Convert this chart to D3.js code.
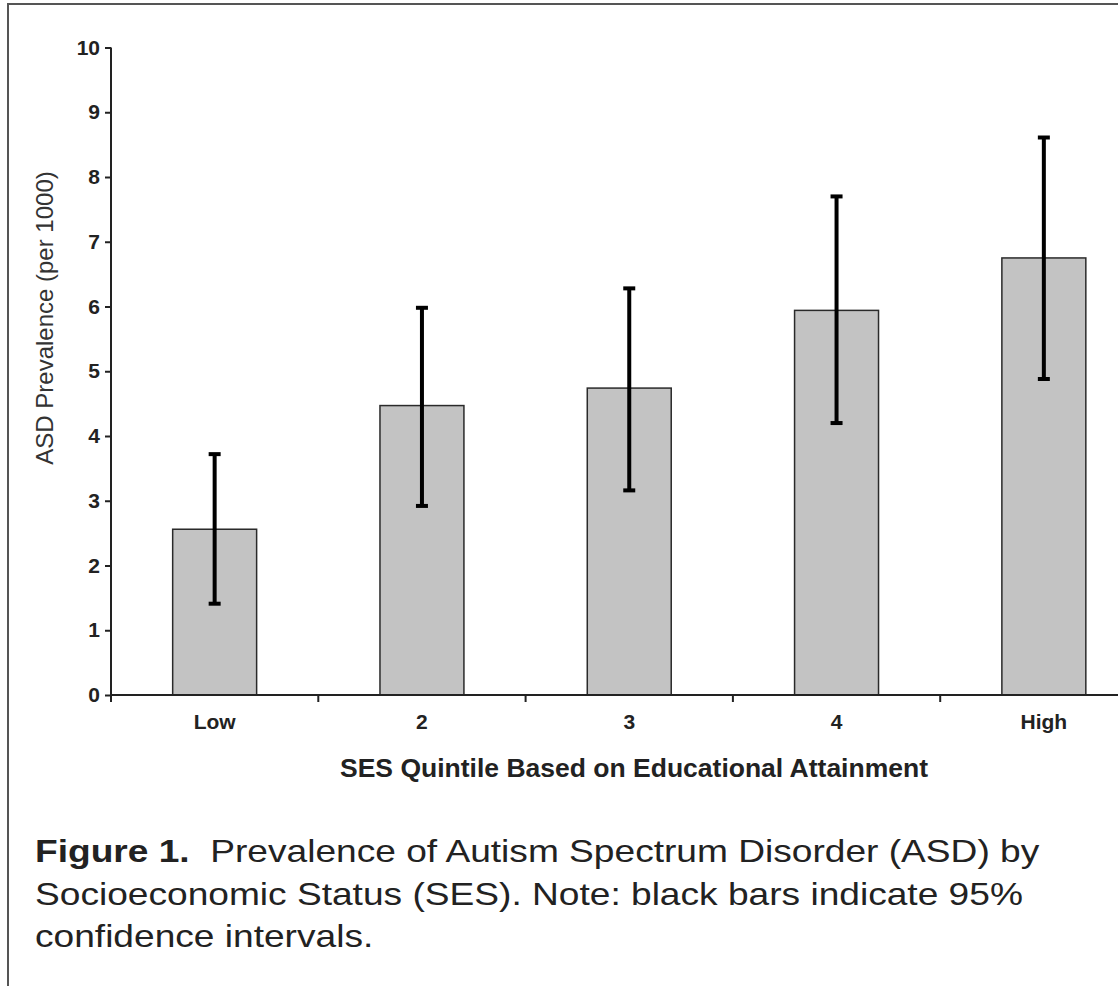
<!DOCTYPE html>
<html>
<head>
<meta charset="utf-8">
<script src="https://cdn.jsdelivr.net/npm/d3@7"></script>
<style>
  html, body { margin: 0; padding: 0; background: #fff; }
  svg { display: block; }
</style>
</head>
<body>
<svg id="chart" width="1118" height="986"></svg>
<script>
// SES quintiles and ASD prevalence (per 1000) with 95% confidence limits
const categories = ["Low", "2", "3", "4", "High"];
const prevalence = [2.56, 4.47, 4.74, 5.94, 6.75];
const ciLower = [1.41, 2.92, 3.16, 4.20, 4.88];
const ciUpper = [3.72, 5.98, 6.28, 7.70, 8.61];
const yTicks = [0, 1, 2, 3, 4, 5, 6, 7, 8, 9, 10];

const svg = d3.select("#chart");
const font = "'Liberation Sans', Arial, Helvetica, sans-serif";

// Figure frame
svg.append("rect")
  .attr("x", 8).attr("y", 4)
  .attr("width", 1200).attr("height", 1100)
  .attr("fill", "none")
  .attr("stroke", "#555")
  .attr("stroke-width", 2);

const plot = { left: 111, top: 47.5, bottom: 695, step: 207.3 };

const y = d3.scaleLinear().domain([0, 10]).range([plot.bottom, plot.top]);
const x = d3.scaleBand()
  .domain(categories)
  .range([plot.left, plot.left + plot.step * categories.length])
  .paddingInner(0.595)
  .paddingOuter(0.2975);

const rows = categories.map((c, i) => ({
  cat: c, value: prevalence[i], lo: ciLower[i], hi: ciUpper[i]
}));

// Bars
svg.append("g").selectAll("rect")
  .data(rows)
  .join("rect")
  .attr("x", d => x(d.cat))
  .attr("y", d => y(d.value))
  .attr("width", x.bandwidth())
  .attr("height", d => y(0) - y(d.value))
  .attr("fill", "#c3c3c3")
  .attr("stroke", "#2a2a2a")
  .attr("stroke-width", 1.5);

// Confidence interval whiskers
const err = svg.append("g").attr("stroke", "#000");
const cx = d => x(d.cat) + x.bandwidth() / 2;
err.selectAll("line.stem")
  .data(rows).join("line").attr("class", "stem")
  .attr("x1", cx).attr("x2", cx)
  .attr("y1", d => y(d.lo)).attr("y2", d => y(d.hi))
  .attr("stroke-width", 4);
err.selectAll("line.capHi")
  .data(rows).join("line").attr("class", "capHi")
  .attr("x1", d => cx(d) - 6).attr("x2", d => cx(d) + 6)
  .attr("y1", d => y(d.hi)).attr("y2", d => y(d.hi))
  .attr("stroke-width", 4);
err.selectAll("line.capLo")
  .data(rows).join("line").attr("class", "capLo")
  .attr("x1", d => cx(d) - 6).attr("x2", d => cx(d) + 6)
  .attr("y1", d => y(d.lo)).attr("y2", d => y(d.lo))
  .attr("stroke-width", 4);

// Y axis
const yAxis = svg.append("g")
  .attr("transform", `translate(${plot.left},0)`)
  .call(d3.axisLeft(y).tickValues(yTicks).tickSize(6).tickPadding(5).tickFormat(d3.format("d")));
yAxis.select(".domain").attr("stroke", "#222").attr("stroke-width", 2).attr("d", `M0,${plot.top}V${plot.bottom}`);
yAxis.selectAll(".tick line").attr("stroke", "#222").attr("stroke-width", 2);
yAxis.selectAll(".tick text")
  .attr("font-family", font).attr("font-size", 21).attr("font-weight", "bold")
  .attr("fill", "#222");

// X axis: category labels
const xAxis = svg.append("g")
  .attr("transform", `translate(0,${plot.bottom})`)
  .call(d3.axisBottom(x).tickSize(0).tickPadding(19));
xAxis.select(".domain").remove();
xAxis.selectAll(".tick text")
  .attr("font-family", font).attr("font-size", 21).attr("font-weight", "bold")
  .attr("fill", "#222");

// X axis line and category boundary ticks
const boundaries = categories.map(c => x(c) - x.step() * x.paddingOuter());
svg.append("line")
  .attr("x1", plot.left).attr("x2", plot.left + plot.step * categories.length)
  .attr("y1", plot.bottom).attr("y2", plot.bottom)
  .attr("stroke", "#222").attr("stroke-width", 2);
svg.append("g").selectAll("line")
  .data(boundaries).join("line")
  .attr("x1", d => d).attr("x2", d => d)
  .attr("y1", plot.bottom).attr("y2", plot.bottom + 7)
  .attr("stroke", "#222").attr("stroke-width", 2);

// Axis titles
svg.append("text")
  .attr("transform", "translate(53,318) rotate(-90)")
  .attr("text-anchor", "middle")
  .attr("font-family", font).attr("font-size", 24)
  .attr("fill", "#333")
  .text("ASD Prevalence (per 1000)");

svg.append("text")
  .attr("x", 634).attr("y", 777)
  .attr("text-anchor", "middle")
  .attr("font-family", font).attr("font-size", 26.5).attr("font-weight", "bold")
  .attr("fill", "#222")
  .text("SES Quintile Based on Educational Attainment");

// Caption (slightly widened lettering)
const capScale = 1.16;
const cap = svg.append("text")
  .attr("transform", `scale(${capScale},1)`)
  .attr("font-family", font).attr("font-size", 32)
  .attr("fill", "#222");
const cx0 = 35 / capScale;
const l1 = cap.append("tspan").attr("x", cx0).attr("y", 862);
l1.append("tspan").attr("font-weight", "bold").text("Figure 1.");
l1.append("tspan").text("\u00a0 Prevalence of Autism Spectrum Disorder (ASD) by");
cap.append("tspan").attr("x", cx0).attr("y", 905)
  .text("Socioeconomic Status (SES). Note: black bars indicate 95%");
cap.append("tspan").attr("x", cx0).attr("y", 947)
  .text("confidence intervals.");
</script>
</body>
</html>
